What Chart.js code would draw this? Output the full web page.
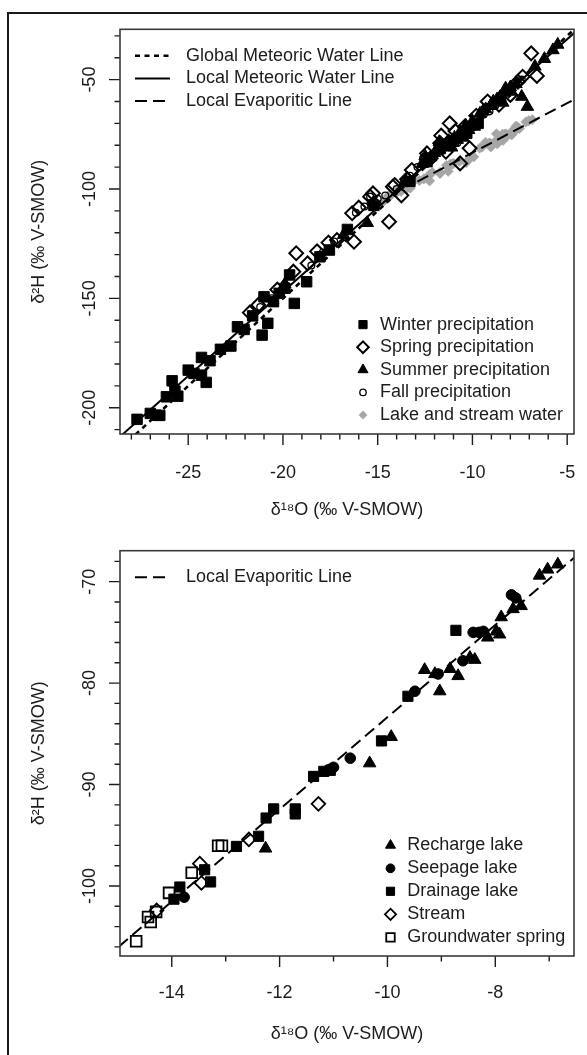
<!DOCTYPE html>
<html><head><meta charset="utf-8">
<script src="https://cdn.jsdelivr.net/npm/chart.js@4.4.1/dist/chart.umd.min.js"></script>
<style>
html,body{margin:0;padding:0;background:#fff;width:587px;height:1055px;overflow:hidden}
#frame{position:absolute;left:7px;top:12px;width:700px;height:1200px;border-left:2px solid #1a1a1a;border-top:2px solid #1a1a1a}
.panel{position:absolute;left:0;width:587px}
#p1{top:0;height:525px}
#p2{top:525px;height:530px}
</style></head><body>
<div id="frame"></div>
<div class="panel" id="p1"><canvas id="c1"></canvas></div>
<div class="panel" id="p2"><canvas id="c2"></canvas></div>
<script>
// ---------- data: top panel (precipitation) ----------
const winterPrecip = [[-27.7,-205.3],[-27.0,-202.6],[-26.5,-203.5],[-26.7,-203.4],[-26.15,-195.0],[-25.85,-187.7],[-25.7,-192.4],[-25.55,-194.7],[-25.0,-182.8],[-24.7,-184.3],[-24.3,-177.0],[-24.3,-185.1],[-24.05,-188.4],[-23.85,-178.5],[-23.3,-173.3],[-22.75,-171.8],[-22.4,-163.0],[-22.05,-164.2],[-21.6,-158.0],[-21.1,-166.8],[-20.8,-161.4],[-21.0,-149.3],[-20.2,-147.7],[-19.9,-145.4],[-19.4,-152.3],[-19.65,-139.3],[-18.75,-142.4],[-18.05,-131.0],[-17.55,-127.9],[-20.5,-151.5],[-16.6,-118.5],[-15.2,-107.5],[-13.3,-96.5],[-12.4,-87.5],[-11.7,-81.5],[-11.0,-78.0],[-10.3,-74.5],[-9.7,-70.0]];
const springPrecip = [[-21.75,-156.5],[-19.3,-129.4],[-18.7,-134.0],[-19.45,-137.8],[-17.15,-123.3],[-16.25,-124.1],[-16.35,-111.1],[-15.4,-103.5],[-15.2,-106.6],[-14.4,-115.0],[-14.2,-99.0],[-13.75,-102.9],[-14.1,-98.2],[-13.2,-91.3],[-12.4,-83.7],[-12.2,-86.0],[-11.65,-75.6],[-11.2,-70.0],[-10.65,-88.3],[-10.15,-81.4],[-9.2,-60.0],[-7.35,-48.7],[-6.6,-48.3],[-6.9,-38.0],[-15.25,-102.0],[-11.7,-79.1],[-10.9,-73.5],[-10.4,-71.5],[-8.6,-61.5],[-8.0,-57.0],[-7.6,-51.0],[-13.45,-95.5],[-16.0,-108.5],[-18.2,-128.5],[-20.3,-146.0],[-21.3,-153.0],[-17.6,-124.5],[-9.8,-66.5],[-11.4,-83.0]];
const summerPrecip = [[-5.5,-34.0],[-5.75,-36.5],[-6.2,-40.5],[-6.7,-44.0],[-7.1,-62.4],[-7.4,-57.8],[-8.25,-54.0],[-7.7,-52.0],[-7.95,-55.5],[-8.55,-58.0],[-8.9,-60.0],[-9.3,-63.5],[-9.6,-65.5],[-10.0,-69.0],[-10.35,-71.0],[-10.65,-74.0],[-10.95,-76.5],[-11.25,-78.0],[-11.55,-80.5],[-11.85,-82.5],[-12.2,-85.5],[-12.65,-88.5],[-13.55,-96.5],[-15.55,-115.5],[-16.8,-121.0],[-19.9,-143.5],[-9.05,-62.0],[-10.5,-76.5],[-11.1,-81.0],[-8.4,-60.5],[-11.4,-79.5],[-10.8,-77.5],[-10.2,-73.0],[-9.9,-71.5],[-12.0,-83.5],[-11.75,-78.5],[-9.0,-61.5],[-8.7,-59.0],[-8.3,-56.0],[-8.0,-53.5],[-9.45,-64.5],[-12.5,-85.0]];
const fallPrecip = [[-21.2,-154.0],[-20.6,-150.0],[-19.9,-143.5],[-18.5,-135.0],[-17.9,-129.0],[-17.3,-124.0],[-16.15,-110.9],[-15.7,-108.0],[-15.4,-103.5],[-15.0,-104.5],[-14.6,-103.0],[-14.0,-100.0],[-13.6,-96.0],[-13.3,-94.0],[-12.9,-90.0],[-12.6,-86.0],[-12.3,-85.0],[-12.0,-84.0],[-11.8,-80.0],[-11.6,-82.0],[-11.4,-78.5],[-11.2,-81.0],[-11.0,-77.0],[-10.8,-79.0],[-10.6,-76.0],[-10.4,-75.0],[-10.2,-74.0],[-10.0,-72.0],[-9.7,-70.0],[-9.4,-66.0],[-9.1,-64.5],[-8.8,-62.0],[-8.5,-60.0],[-8.2,-57.0],[-7.9,-54.0],[-7.4,-50.0]];

// ---------- data: bottom panel (surface / ground water) ----------
const rechargeLake = [[-6.84,-68.3],[-7.03,-68.8],[-7.18,-69.4],[-7.52,-72.4],[-7.67,-72.7],[-7.89,-73.5],[-7.98,-74.9],[-7.92,-75.2],[-8.14,-75.5],[-8.47,-77.5],[-8.38,-77.7],[-8.84,-78.6],[-8.69,-79.3],[-9.12,-79.1],[-9.31,-78.7],[-9.03,-80.8],[-9.93,-85.3],[-10.33,-87.9],[-12.26,-96.3]];
const seepageLake = [[-7.70,-71.3],[-7.62,-71.6],[-8.41,-75.0],[-8.30,-75.0],[-8.22,-74.9],[-8.60,-77.8],[-9.06,-79.1],[-9.49,-80.8],[-10.69,-87.4],[-11.07,-88.5],[-11.0,-88.3],[-13.77,-101.1]];
const drainageLake = [[-8.73,-74.8],[-9.62,-81.3],[-10.11,-85.7],[-11.37,-89.2],[-11.18,-88.7],[-11.06,-88.6],[-11.71,-92.4],[-11.71,-92.9],[-12.11,-92.4],[-12.25,-93.3],[-12.39,-95.1],[-12.80,-96.1],[-13.28,-99.6],[-13.39,-98.4],[-13.85,-100.1],[-13.96,-101.3]];
const streamWater = [[-11.28,-91.9],[-12.57,-95.4],[-13.48,-97.8],[-13.45,-99.7],[-14.28,-102.4]];
const groundwaterSpring = [[-14.66,-105.45],[-14.44,-103.05],[-14.39,-103.54],[-14.29,-102.55],[-14.05,-100.68],[-13.63,-98.7],[-13.14,-96.04],[-13.07,-96.04]];

// ---------- reference lines (endpoints in data units) ----------
const gmwlLine = [[-30,-230],[-4,-22]];          // d2H = 8 d18O + 10
const lmwlLine = [[-30,-224],[-4,-23.8]];        // local meteoric water line
const lelTopLine = [[-12.9,-96.6],[-4,-56.2]];   // local evaporitic line
const lelBottomLine = [[-16,-110.6],[-6,-65.2]];

// ---------- axes / tick labels ----------
const topXMajor = [-25,-20,-15,-10,-5];
const topXMinor = [-28,-27,-26,-24,-23,-22,-21,-19,-18,-17,-16,-14,-13,-12,-11,-9,-8,-7,-6];
const topYMajor = [-200,-150,-100,-50];
const topYMinor = [-210,-190,-180,-170,-160,-140,-130,-120,-110,-90,-80,-70,-60,-40,-30];
const botXMajor = [-14,-12,-10,-8];
const botXMinor = [-13,-11,-9,-7];
const botYMajor = [-100,-90,-80,-70];
const botYMinor = [-106,-104,-102,-98,-96,-94,-92,-88,-86,-84,-82,-78,-76,-74,-72,-68];

const FONT = '"Liberation Sans", Arial, sans-serif';
const FS = 18;
const INK = '#1c1c1c';
Chart.defaults.font.family = FONT;
Chart.defaults.font.size = FS;
Chart.defaults.color = INK;

const pts = arr => arr.map(([x, y]) => ({x, y}));

function pointSet(label, arr, style, order, legendRadius) {
  return {
    label, data: pts(arr), showLine: false, order,
    pointStyle: style.shape, pointRadius: style.r, pointHoverRadius: style.r,
    backgroundColor: style.fill, pointBackgroundColor: style.fill,
    borderColor: style.stroke, pointBorderColor: style.stroke,
    borderWidth: style.lw, pointBorderWidth: style.lw,
    legendRadius: legendRadius
  };
}
function lineSet(label, arr, dash, lw, order) {
  return {
    label, data: pts(arr), showLine: true, order, pointRadius: 0, pointHoverRadius: 0,
    borderColor: '#000', backgroundColor: '#000', borderWidth: lw, borderDash: dash, fill: false, tension: 0
  };
}

const rPlugin = {
  id: 'rStyle',
  afterDatasetsDraw(chart, args, o) {
    const {ctx, chartArea: a} = chart;
    const x = chart.scales.x, y = chart.scales.y;
    ctx.save();
    ctx.strokeStyle = INK;
    ctx.lineWidth = 1.4;
    ctx.beginPath();
    const tick = (vals, len, horiz) => vals.forEach(v => {
      if (horiz) { const p = x.getPixelForValue(v); ctx.moveTo(p, a.bottom); ctx.lineTo(p, a.bottom + len); }
      else { const p = y.getPixelForValue(v); ctx.moveTo(a.left, p); ctx.lineTo(a.left - len, p); }
    });
    tick(o.xMajor, o.major, true); tick(o.xMinor, o.minor, true);
    tick(o.yMajor, o.major, false); tick(o.yMinor, o.minor, false);
    ctx.stroke();
    ctx.strokeStyle = '#3a3a3a';
    ctx.lineWidth = 1.6;
    ctx.strokeRect(a.left, a.top, a.right - a.left, a.bottom - a.top);
    ctx.restore();
  },
  afterDraw(chart, args, o) {
    const {ctx, chartArea: a} = chart;
    const ds = chart.data.datasets;
    ctx.save();
    ctx.font = FS + 'px ' + FONT;
    ctx.textBaseline = 'middle';
    ctx.textAlign = 'left';
    o.lineItems.forEach((idx, i) => {
      const d = ds[idx];
      const yy = a.top + o.lineTop + i * o.rowGap;
      ctx.save();
      ctx.strokeStyle = d.borderColor; ctx.lineWidth = d.borderWidth; ctx.setLineDash(d.borderDash || []);
      ctx.beginPath(); ctx.moveTo(a.left + o.lineX0, yy); ctx.lineTo(a.left + o.lineX1, yy); ctx.stroke();
      ctx.restore();
      ctx.fillStyle = INK;
      ctx.fillText(d.label, a.left + o.lineTextX, yy);
    });
    const n = o.pointItems.length;
    o.pointItems.forEach((idx, i) => {
      const d = ds[idx];
      const yy = a.bottom - o.pointBottom - (n - 1 - i) * o.rowGap;
      ctx.save();
      ctx.fillStyle = d.backgroundColor; ctx.strokeStyle = d.borderColor; ctx.lineWidth = d.borderWidth;
      Chart.helpers.drawPoint(ctx, {pointStyle: d.pointStyle, radius: d.legendRadius, rotation: 0, borderWidth: d.borderWidth}, a.right - o.markerFromRight, yy);
      ctx.restore();
      ctx.fillStyle = INK;
      ctx.fillText(d.label, a.right - o.textFromRight, yy);
    });
    ctx.restore();
  }
};

function makeOptions(cfg) {
  const tickFont = {size: FS, family: FONT};
  return {
    responsive: true, maintainAspectRatio: false, animation: false, events: [],
    layout: {padding: {left: 0, right: 13, top: cfg.padTop, bottom: 0}},
    plugins: {
      legend: {display: false}, tooltip: {enabled: false},
      rStyle: cfg.r
    },
    scales: {
      x: {
        type: 'linear', position: 'bottom', min: cfg.xMin, max: cfg.xMax,
        grid: {display: false, drawTicks: false}, border: {display: false},
        afterBuildTicks: s => { s.ticks = cfg.xMajor.map(v => ({value: v})); },
        afterFit: s => { s.height = cfg.xHeight; s.paddingLeft = 0; s.paddingRight = 0; s.paddingTop = 0; s.paddingBottom = 0; },
        ticks: {autoSkip: false, maxRotation: 0, minRotation: 0, padding: cfg.xTickPad, font: tickFont, color: INK, callback: v => String(v)},
        title: {display: true, text: 'δ¹⁸O (‰ V-SMOW)', font: {size: FS, family: FONT}, color: INK, padding: {top: 0, bottom: cfg.xTitlePad}}
      },
      y: {
        type: 'linear', position: 'left', min: cfg.yMin, max: cfg.yMax,
        grid: {display: false, drawTicks: false}, border: {display: false},
        afterBuildTicks: s => { s.ticks = cfg.yMajor.map(v => ({value: v})); },
        afterFit: s => { s.width = 120; s.paddingLeft = 0; s.paddingRight = 0; s.paddingTop = 0; s.paddingBottom = 0; },
        ticks: {autoSkip: false, minRotation: 90, maxRotation: 90, crossAlign: 'center', padding: 12, font: tickFont, color: INK, callback: v => String(v)},
        title: {display: true, text: 'δ²H (‰ V-SMOW)', font: {size: FS, family: FONT}, color: INK, padding: {top: 28.5, bottom: 0}}
      }
    }
  };
}

// ---------- styles ----------
const S = {
  winter: {shape: 'rect', r: 7.4, fill: '#000', stroke: '#000', lw: 1},
  spring: {shape: 'rectRot', r: 6.9, fill: 'rgba(0,0,0,0)', stroke: '#000', lw: 2},
  summer: {shape: 'triangle', r: 7.2, fill: '#000', stroke: '#000', lw: 1},
  fall: {shape: 'circle', r: 3.4, fill: 'rgba(0,0,0,0)', stroke: '#000', lw: 1.3},
  lake: {shape: 'rectRot', r: 5.2, fill: '#a6a6a6', stroke: '#a6a6a6', lw: 0.5},
  recharge: {shape: 'triangle', r: 7.2, fill: '#000', stroke: '#000', lw: 1},
  seepage: {shape: 'circle', r: 5.3, fill: '#000', stroke: '#000', lw: 1},
  drainage: {shape: 'rect', r: 7.2, fill: '#000', stroke: '#000', lw: 1},
  stream: {shape: 'rectRot', r: 6.8, fill: 'rgba(0,0,0,0)', stroke: '#000', lw: 1.8},
  spring2: {shape: 'rect', r: 7.6, fill: 'rgba(0,0,0,0)', stroke: '#000', lw: 1.8}
};

const lakeAndStream = [].concat(rechargeLake, seepageLake, drainageLake, streamWater, groundwaterSpring);

new Chart(document.getElementById('c1'), {
  type: 'scatter',
  data: {datasets: [
    pointSet('Winter precipitation', winterPrecip, S.winter, 4, 5.8),
    pointSet('Spring precipitation', springPrecip, S.spring, 3, 5.8),
    pointSet('Summer precipitation', summerPrecip, S.summer, 2, 5.8),
    pointSet('Fall precipitation', fallPrecip, S.fall, 1, 3.2),
    pointSet('Lake and stream water', lakeAndStream, S.lake, 5, 4.2),
    lineSet('Global Meteoric Water Line', gmwlLine, [5, 4.5], 2.6, 0),
    lineSet('Local Meteoric Water Line', lmwlLine, [], 2, 0),
    lineSet('Local Evaporitic Line', lelTopLine, [12, 6], 2, 0)
  ]},
  options: makeOptions({
    padTop: 29.3, xMin: -28.6, xMax: -4.64, yMin: -212.0, yMax: -27.0,
    xMajor: topXMajor, yMajor: topYMajor, xHeight: 91, xTickPad: 28.5, xTitlePad: 4.2,
    r: {xMajor: topXMajor, xMinor: topXMinor, yMajor: topYMajor, yMinor: topYMinor, major: 11, minor: 5.5,
        lineItems: [5, 6, 7], lineTop: 26.5, rowGap: 22.6, lineX0: 15, lineX1: 50, lineTextX: 66,
        pointItems: [0, 1, 2, 3, 4], pointBottom: 19, markerFromRight: 211, textFromRight: 194}
  }),
  plugins: [rPlugin]
});

new Chart(document.getElementById('c2'), {
  type: 'scatter',
  data: {datasets: [
    pointSet('Recharge lake', rechargeLake, S.recharge, 1, 5.8),
    pointSet('Seepage lake', seepageLake, S.seepage, 2, 4.4),
    pointSet('Drainage lake', drainageLake, S.drainage, 3, 5.8),
    pointSet('Stream', streamWater, S.stream, 4, 5.6),
    pointSet('Groundwater spring', groundwaterSpring, S.spring2, 5, 6.0),
    lineSet('Local Evaporitic Line', lelBottomLine, [12, 6], 2, 0)
  ]},
  options: makeOptions({
    padTop: 25.7, xMin: -14.96, xMax: -6.54, yMin: -106.9, yMax: -66.95,
    xMajor: botXMajor, yMajor: botYMajor, xHeight: 99, xTickPad: 26.7, xTitlePad: 10.2,
    r: {xMajor: botXMajor, xMinor: botXMinor, yMajor: botYMajor, yMinor: botYMinor, major: 11, minor: 5.5,
        lineItems: [5], lineTop: 26.5, rowGap: 23, lineX0: 15, lineX1: 50, lineTextX: 66,
        pointItems: [0, 1, 2, 3, 4], pointBottom: 18.7, markerFromRight: 183.5, textFromRight: 166.7}
  }),
  plugins: [rPlugin]
});
</script>
</body></html>
